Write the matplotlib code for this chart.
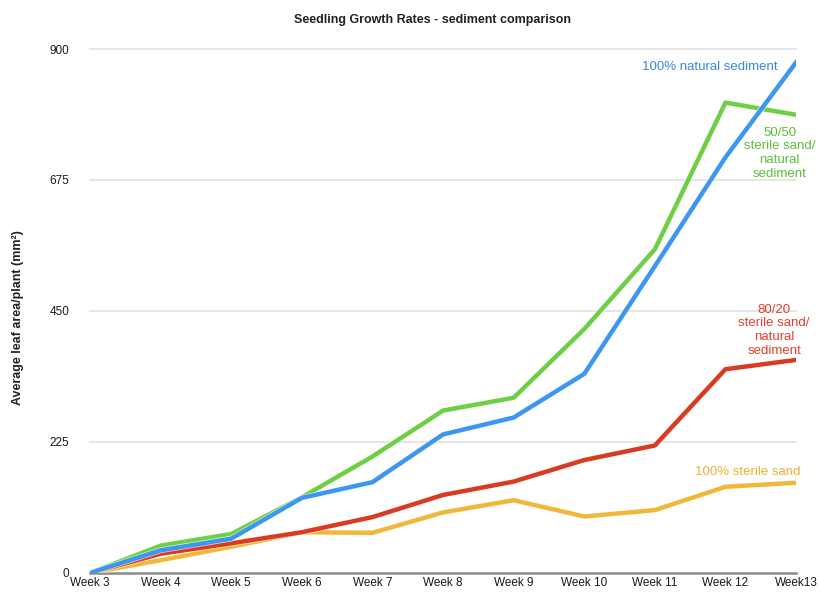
import matplotlib
matplotlib.use('Agg')
import matplotlib.pyplot as plt
import matplotlib.patheffects as pe
import numpy as np

plt.rcParams['font.family'] = ['Liberation Sans', 'DejaVu Sans']

weeks = ['Week 3', 'Week 4', 'Week 5', 'Week 6', 'Week 7', 'Week 8',
         'Week 9', 'Week 10', 'Week 11', 'Week 12', 'Week13']

# average leaf area per plant (mm^2)
natural_100 = [0, 39, 59, 129, 156, 238, 267, 342, 527, 714, 877]
mix_50_50 = [0, 47, 67, 130, 200, 279, 301, 419, 556, 808, 787]
mix_80_20 = [0, 33, 51, 70, 96, 134, 157, 194, 219, 350, 366]
sand_100 = [0, 22, 45, 70, 69, 104, 125, 97, 108, 148, 155]

y_ticks = [0, 225, 450, 675, 900]

fig = plt.figure(figsize=(8.19, 5.94), dpi=100)
ax = fig.add_axes([0.110, 0.0354, 0.862, 0.8821])

x = np.arange(len(weeks))
halo = [pe.Stroke(linewidth=4.2, foreground='white', alpha=0.7), pe.Normal()]

ax.plot(x, sand_100, color='#f0b83a', lw=3.2, path_effects=halo, zorder=3)
ax.plot(x, mix_80_20, color='#da3a22', lw=3.2, path_effects=halo, zorder=4)
ax.plot(x, mix_50_50, color='#6ecf45', lw=3.2, path_effects=halo, zorder=5)
ax.plot(x, natural_100, color='#3d96f0', lw=3.2, path_effects=halo, zorder=6)

ax.set_xlim(0, len(weeks) - 1)
ax.set_ylim(0, 900)
ax.set_xticks(x)
ax.set_xticklabels(weeks, fontsize=8.5, color='#1a1a1a')
ax.set_yticks(y_ticks)
ax.set_yticklabels([str(v) for v in y_ticks], fontsize=8.5, color='#1a1a1a')
ax.tick_params(axis='both', length=0)
ax.tick_params(axis='y', pad=15)
ax.tick_params(axis='x', pad=3)

for v in y_ticks[1:]:
    ax.axhline(v, color='#e2e2e2', lw=1.2, zorder=1, clip_on=False)
for s in ['top', 'right', 'left']:
    ax.spines[s].set_visible(False)
ax.spines['bottom'].set_color('#8a8a8a')
ax.spines['bottom'].set_linewidth(1.8)
ax.spines['bottom'].set_zorder(2)

fig.text(0.528, 0.966, 'Seedling Growth Rates - sediment comparison',
         ha='center', va='center', fontsize=9, fontweight='bold', color='#222222')
fig.text(0.022, 0.465, 'Average leaf area/plant (mm²)', rotation=90,
         ha='center', va='center', fontsize=9, fontweight='bold', color='#222222')

ax.text(9.745, 869, '100% natural sediment', color='#3a88dc', fontsize=9.5,
        ha='right', va='center')
ax.text(9.77, 721, '50/50\nsterile sand/\nnatural\nsediment', color='#5cbf38',
        fontsize=9.5, ha='center', va='center', linespacing=1.2)
ax.text(9.69, 417, '80/20\nsterile sand/\nnatural\nsediment', color='#e2402e',
        fontsize=9.5, ha='center', va='center', linespacing=1.2)
ax.text(10.06, 173, '100% sterile sand', color='#f0b030', fontsize=9.5,
        ha='right', va='center')

fig.savefig('out.png', dpi=100)
